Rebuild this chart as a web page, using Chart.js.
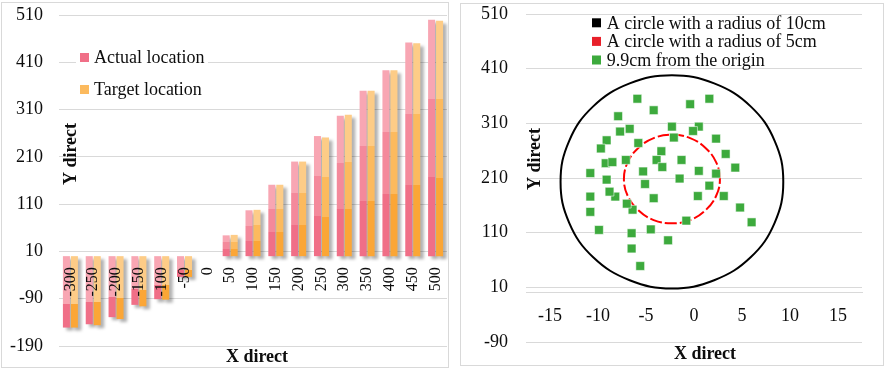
<!DOCTYPE html>
<html>
<head>
<meta charset="utf-8">
<script src="https://cdn.jsdelivr.net/npm/chart.js@4.4.1/dist/chart.umd.min.js"></script>
<style>
  html, body { margin: 0; padding: 0; background: #fff; overflow: hidden; }
  .panel { position: absolute; box-sizing: border-box; border: 1px solid #d9d9d9; background: #fff; }
  #p1 { left: 1px; top: 2px; width: 448px; height: 366px; }
  #p2 { left: 460px; top: 3px; width: 424px; height: 363px; }
  canvas { display: block; }
</style>
</head>
<body>
<div class="panel" id="p1"><canvas id="left" width="446" height="364"></canvas></div>
<div class="panel" id="p2"><canvas id="right" width="422" height="361"></canvas></div>
<script>
'use strict';

// left chart: x direct / y direct bars
const categories = ['-300', '-250', '-200', '-150', '-100', '-50', '0', '50', '100', '150', '200', '250', '300', '350', '400', '450', '500'];
const actualY = [-151, -144, -129, -103, -91, -44, 0, 44, 97, 151, 200, 254, 297, 350, 393, 452, 500];
const targetY = [-151, -146, -133, -106, -92, -44, 0, 45, 98, 151, 200, 251, 299, 350, 393, 450, 498];
const leftYTicks = [510, 410, 310, 210, 110, 10, -90, -190];

// right chart: scatter + circles
const pointsX = [-5.9, 1.6, -0.4, -4.2, -7.9, -6.7, -7.7, -2.3, 0.5, -0.1, -9.1, -5.8, -2.1, 2.3, -9.7, -3.4, 3.3, -3.9, -7.1, -1.3, -9.2, -8.5, -3.3, 4.3, -5.3, -10.8, 0.5, 2.3, -9.1, -1.5, -5.1, 1.6, -10.8, -8.2, -8.8, -6.4, -7.0, -4.2, 0.4, 3.1, 4.8, -10.8, 6.0, -0.8, -9.9, -4.5, -6.5, -2.7, -6.5, -5.6];
const pointsY = [355, 355, 345, 334, 323, 300, 295, 304, 304, 296, 279, 274, 284, 282, 264, 259, 254, 243, 243, 243, 237, 239, 230, 229, 222, 219, 223, 218, 207, 209, 199, 196, 176, 176, 185, 152, 163, 173, 177, 177, 156, 148, 129, 132, 115, 116, 109, 96, 81, 49];
const bigCircleX = [9.3, 8.4, 5.9, 2.1, -2.3, -6.7, -10.5, -13.0, -13.9, -13.0, -10.5, -6.7, -2.3, 2.1, 5.9, 8.4];
const bigCircleY = [203, 278, 341, 383, 398, 383, 341, 278, 203, 128, 65, 23, 8, 23, 65, 128];
const smallCircleX = [2.7, 2.3, 1.2, -0.4, -2.3, -4.2, -5.8, -6.9, -7.3, -6.9, -5.8, -4.2, -2.3, -0.4, 1.2, 2.3];
const smallCircleY = [208, 239, 265, 283, 289, 283, 265, 239, 208, 177, 151, 133, 127, 133, 151, 177];
const rightYTicks = [510, 410, 310, 210, 110, 10, -90];
const rightXTicks = [-15, -10, -5, 0, 5, 10, 15];

const FONT = "'Liberation Serif', 'Times New Roman', serif";
const TEXT = '#0d0d0d';
const GRID = '#d9d9d9';
const pinkShades = ['#F8A6B3', '#F4899B', '#F06F87'];
const orangeShades = ['#FDCC87', '#FCBA5E', '#FBA636'];

function zip(xs, ys) {
    return xs.map((x, i) => ({ x: x, y: ys[i] }));
}

// ticks.padding がレイアウトの余白に入らないようにする
function noPad(s) {
    s.paddingTop = 0;
    s.paddingBottom = 0;
    s.paddingLeft = 0;
    s.paddingRight = 0;
}

// 3段のグラデーション（上が明るい）
function barFill(shades) {
    return function (c) {
        const chart = c.chart;
        const ys = chart.scales.y;
        if (!chart.chartArea || !c.parsed || !ys) return shades[1];
        const v = c.parsed.y;
        const p0 = ys.getPixelForValue(0);
        const p1 = ys.getPixelForValue(v);
        if (!isFinite(p0) || !isFinite(p1) || Math.abs(p0 - p1) < 1) return shades[1];
        const top = Math.min(p0, p1), bot = Math.max(p0, p1);
        const g = chart.ctx.createLinearGradient(0, top, 0, bot);
        if (v >= 0) {
            g.addColorStop(0, shades[0]); g.addColorStop(1 / 3, shades[0]);
            g.addColorStop(1 / 3, shades[1]); g.addColorStop(2 / 3, shades[1]);
            g.addColorStop(2 / 3, shades[2]); g.addColorStop(1, shades[2]);
        } else {
            g.addColorStop(0, shades[0]); g.addColorStop(2 / 3, shades[0]);
            g.addColorStop(2 / 3, shades[2]); g.addColorStop(1, shades[2]);
        }
        return g;
    };
}

// 棒の影（棒の下に描く）
const shadowPlugin = {
    id: 'barShadow',
    beforeDatasetsDraw(chart) {
        const ctx = chart.ctx;
        ctx.save();
        ctx.filter = 'blur(1.5px)';
        ctx.fillStyle = 'rgba(0,0,0,0.30)';
        chart.getSortedVisibleDatasetMetas().forEach((meta) => {
            meta.data.forEach((bar) => {
                const p = bar.getProps(['x', 'y', 'base', 'width'], true);
                const h = Math.abs(p.base - p.y);
                if (h < 1) return;
                ctx.fillRect(p.x - p.width / 2 + 3.5, Math.min(p.y, p.base) + 3, p.width, h);
            });
        });
        ctx.restore();
    }
};

// 円を閉じた曲線にする
const loopPlugin = {
    id: 'closedCircle',
    afterDatasetsUpdate(chart) {
        chart.data.datasets.forEach((ds, i) => {
            if (!ds.closed) return;
            const line = chart.getDatasetMeta(i).dataset;
            line._loop = true;
            line._fullLoop = true;
        });
    }
};

function drawTitle(ctx, text, x, y, rotate) {
    ctx.save();
    ctx.translate(x, y);
    if (rotate) ctx.rotate(-Math.PI / 2);
    ctx.font = 'bold 18px ' + FONT;
    ctx.fillStyle = TEXT;
    ctx.textAlign = 'center';
    ctx.textBaseline = 'middle';
    ctx.fillText(text, 0, 0);
    ctx.restore();
}

function drawLegend(ctx, items, x, y0, step, textX) {
    ctx.save();
    ctx.font = '18px ' + FONT;
    ctx.textAlign = 'left';
    ctx.textBaseline = 'middle';
    items.forEach((it, i) => {
        const y = y0 + i * step;
        ctx.fillStyle = it.color;
        ctx.fillRect(x, y - 4.5, 9, 9);
        ctx.fillStyle = TEXT;
        ctx.fillText(it.text, textX, y + 1);
    });
    ctx.restore();
}

const leftDecor = {
    id: 'leftDecor',
    afterDraw(chart) {
        const ctx = chart.ctx;
        ctx.save();
        ctx.fillStyle = '#fff';
        ctx.fillRect(74, 41, 132, 56);
        ctx.restore();
        drawLegend(ctx, [
            { text: chart.data.datasets[0].label, color: pinkShades[2] },
            { text: chart.data.datasets[1].label, color: orangeShades[1] }
        ], 78, 54.5, 32, 92);
        drawTitle(ctx, 'Y direct', 69, 151, true);
        drawTitle(ctx, 'X direct', 255, 354, false);
    }
};

const rightDecor = {
    id: 'rightDecor',
    afterDraw(chart) {
        const ctx = chart.ctx;
        const ds = chart.data.datasets;
        drawLegend(ctx, [
            { text: ds[0].label, color: '#000' },
            { text: ds[1].label, color: '#E8202A' },
            { text: ds[2].label, color: '#3DAA3D' }
        ], 131, 18.8, 18.6, 145.7);
        drawTitle(ctx, 'Y direct', 74, 155, true);
        drawTitle(ctx, 'X direct', 244, 350, false);
    }
};

// 左のグラフ
new Chart(document.getElementById('left'), {
    type: 'bar',
    data: {
        labels: categories,
        datasets: [
            { label: 'Actual location', data: actualY, backgroundColor: barFill(pinkShades) },
            { label: 'Target location', data: targetY, backgroundColor: barFill(orangeShades) }
        ]
    },
    options: {
        responsive: false,
        animation: false,
        layout: { padding: { top: 12, right: 1, bottom: 21, left: 0 } },
        datasets: { bar: { categoryPercentage: 0.7, barPercentage: 0.88 } },
        plugins: { legend: { display: false }, tooltip: { enabled: false } },
        scales: {
            x: {
                position: { y: 0 },
                afterFit: noPad,
                grid: { display: false },
                border: { display: false },
                ticks: { z: 1, minRotation: 90, maxRotation: 90, autoSkip: false, color: TEXT, padding: 3, font: { family: FONT, size: 16 } }
            },
            y: {
                min: -190,
                max: 510,
                afterFit: (s) => { noPad(s); s.width = 57; },
                afterBuildTicks: (s) => { s.ticks = leftYTicks.map(v => ({ value: v })); },
                grid: { color: GRID, drawTicks: false },
                border: { display: false },
                ticks: { color: TEXT, padding: 16, font: { family: FONT, size: 18, lineHeight: 1 } }
            }
        }
    },
    plugins: [shadowPlugin, leftDecor]
});

// 右のグラフ
new Chart(document.getElementById('right'), {
    type: 'scatter',
    data: {
        datasets: [
            {
                label: 'A circle with a radius of 10cm',
                data: zip(bigCircleX, bigCircleY),
                closed: true,
                showLine: true, borderColor: '#000', borderWidth: 2,
                pointRadius: 0, tension: 0.4, order: 2
            },
            {
                label: 'A circle with a radius of 5cm',
                data: zip(smallCircleX, smallCircleY),
                closed: true,
                showLine: true, borderColor: '#FF0000', borderWidth: 2, borderDash: [12, 3],
                pointRadius: 0, tension: 0.4, order: 1
            },
            {
                label: '9.9cm from the origin',
                data: zip(pointsX, pointsY),
                pointStyle: 'rect', pointRadius: 6.2,
                backgroundColor: '#3DAA3D', borderColor: 'rgba(255,255,255,0.55)', borderWidth: 1,
                order: 0
            }
        ]
    },
    options: {
        responsive: false,
        animation: false,
        layout: { padding: { top: 10, right: 21, bottom: 23, left: 0 } },
        plugins: { legend: { display: false }, tooltip: { enabled: false } },
        scales: {
            x: {
                type: 'linear',
                min: -17.5,
                max: 17.5,
                position: { y: 0 },
                afterFit: noPad,
                afterBuildTicks: (s) => { s.ticks = rightXTicks.map(v => ({ value: v })); },
                grid: { display: false },
                border: { display: true, color: GRID, width: 1 },
                ticks: { color: TEXT, padding: 5, font: { family: FONT, size: 18 } }
            },
            y: {
                min: -90,
                max: 510,
                afterFit: (s) => { noPad(s); s.width = 65; },
                afterBuildTicks: (s) => { s.ticks = rightYTicks.map(v => ({ value: v })); },
                grid: { color: GRID, drawTicks: false },
                border: { display: false },
                ticks: { color: TEXT, padding: 18, font: { family: FONT, size: 18, lineHeight: 1 } }
            }
        }
    },
    plugins: [loopPlugin, rightDecor]
});
</script>
</body>
</html>
